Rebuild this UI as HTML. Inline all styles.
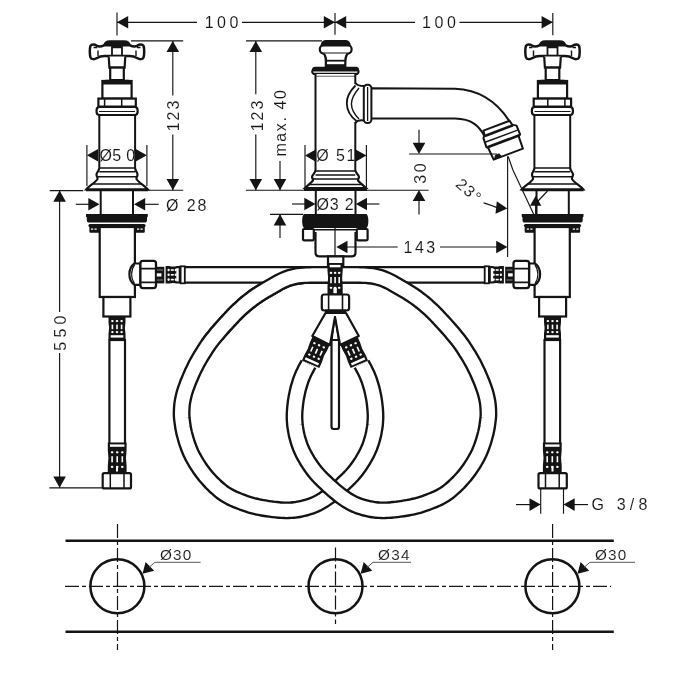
<!DOCTYPE html>
<html><head><meta charset="utf-8"><style>
html,body{margin:0;padding:0;background:#fff;width:700px;height:700px;overflow:hidden}
svg{display:block}
text{font-family:"Liberation Sans",sans-serif;fill:#141414;stroke:#fff;stroke-width:0.1px}
svg{will-change:transform}
</style></head><body>
<svg width="700" height="700" viewBox="0 0 700 700">
<defs><clipPath id="cl"><rect x="200" y="255" width="128" height="85"/></clipPath></defs>
<path d="M487.0 274.8 L484.0 274.8 L481.0 274.8 L478.0 274.8 L475.0 274.8 L472.0 274.8 L469.0 274.8 L466.0 274.8 L463.0 274.8 L460.0 274.8 L457.0 274.8 L454.0 274.8 L451.0 274.8 L448.0 274.8 L444.9 274.8 L441.9 274.8 L438.9 274.8 L435.9 274.8 L432.9 274.8 L429.9 274.8 L426.9 274.8 L423.9 274.8 L420.9 274.8 L417.9 274.8 L414.9 274.8 L411.9 274.8 L408.9 274.8 L405.9 274.8 L402.9 274.8 L399.9 274.8 L396.9 274.8 L393.9 274.8 L390.9 274.8 L387.9 274.8 L384.9 274.8 L381.9 274.8 L378.9 274.8 L375.9 274.8 L372.9 274.8 L369.9 274.8 L366.9 274.8 L363.9 274.8 L360.8 274.8 L357.8 274.8 L354.8 274.8 L351.8 274.8 L348.8 274.8 L345.8 274.8 L342.8 274.8 L339.8 274.8 L336.8 274.8 L333.8 274.8 L330.8 274.8 L327.8 274.8 L324.8 274.8 L321.8 274.8 L318.8 274.9 L315.8 274.9 L312.8 274.9 L309.8 275.0 L306.8 275.1 L303.8 275.2 L300.8 275.5 L297.9 275.8 L294.9 276.4 L292.0 277.1 L289.1 277.9 L286.3 278.9 L283.6 280.1 L280.9 281.3 L278.2 282.7 L275.6 284.2 L273.0 285.7 L270.4 287.2 L267.8 288.7 L265.2 290.2 L262.7 291.8 L260.1 293.4 L257.6 295.0 L255.1 296.7 L252.7 298.4 L250.3 300.3 L247.9 302.1 L245.6 304.0 L243.3 306.0 L241.1 308.0 L238.9 310.0 L236.7 312.1 L234.6 314.2 L232.5 316.4 L230.5 318.6 L228.4 320.8 L226.4 323.0 L224.4 325.2 L222.4 327.4 L220.4 329.7 L218.4 332.0 L216.5 334.3 L214.6 336.6 L212.7 338.9 L210.8 341.3 L209.1 343.7 L207.3 346.2 L205.7 348.6 L204.1 351.2 L202.5 353.7 L200.9 356.3 L199.4 358.9 L197.9 361.5 L196.4 364.1 L195.1 366.8 L193.8 369.5 L192.5 372.2 L191.3 374.9 L190.1 377.7 L188.9 380.5 L187.8 383.2 L186.8 386.0 L185.7 388.9 L184.8 391.7 L184.0 394.6 L183.3 397.5 L182.7 400.4 L182.2 403.4 L181.9 406.4 L181.7 409.4 L181.6 412.3 L181.6 415.3 L181.8 418.3 L182.2 421.3 L182.6 424.3 L183.0 427.2 L183.6 430.2 L184.2 433.1 L185.0 436.0 L185.8 438.9 L186.6 441.8 L187.6 444.6 L188.6 447.4 L189.7 450.2 L190.9 453.0 L192.2 455.7 L193.6 458.3 L195.1 460.9 L196.6 463.5 L198.3 466.0 L199.9 468.5 L201.7 471.0 L203.5 473.4 L205.3 475.7 L207.3 478.0 L209.3 480.2 L211.3 482.4 L213.5 484.5 L215.6 486.6 L217.9 488.6 L220.1 490.5 L222.5 492.4 L225.0 494.1 L227.5 495.6 L230.1 497.1 L232.8 498.4 L235.5 499.6 L238.3 500.7 L241.1 501.8 L243.9 502.9 L246.8 503.9 L249.6 504.8 L252.5 505.6 L255.4 506.3 L258.3 507.0 L261.3 507.6 L264.2 508.1 L267.2 508.6 L270.2 509.0 L273.1 509.4 L276.1 509.7 L279.1 510.0 L282.1 510.2 L285.1 510.3 L288.1 510.3 L291.1 510.2 L294.1 510.0 L297.0 509.6 L300.0 509.1 L302.9 508.4 L305.8 507.7 L308.7 506.8 L311.5 505.9 L314.3 504.8 L317.0 503.6 L319.7 502.2 L322.2 500.7 L324.7 499.1 L327.2 497.3 L329.6 495.6 L332.0 493.7 L334.3 491.8 L336.6 489.9 L338.8 487.9 L341.1 485.9 L343.3 483.8 L345.4 481.8 L347.6 479.7 L349.7 477.6 L351.8 475.4 L353.8 473.1 L355.7 470.8 L357.5 468.4 L359.2 466.0 L360.9 463.5 L362.5 461.0 L364.0 458.4 L365.5 455.8 L366.9 453.1 L368.2 450.4 L369.4 447.7 L370.4 444.9 L371.4 442.0 L372.2 439.2 L373.0 436.3 L373.7 433.4 L374.2 430.4 L374.7 427.5 L375.1 424.5 L375.3 421.5 L375.5 418.5 L375.5 415.5 L375.4 412.5 L375.2 409.5 L374.9 406.5 L374.6 403.6 L374.2 400.6 L373.7 397.6 L373.1 394.7 L372.5 391.8 L371.8 388.8 L371.0 386.0 L370.1 383.1 L369.2 380.2 L368.1 377.4 L367.0 374.7 L365.7 372.0 L364.4 369.3 L362.9 366.6 L361.5 364.0" fill="none" stroke="#141414" stroke-width="17.85" stroke-linejoin="round"/><path d="M487.0 274.8 L484.0 274.8 L481.0 274.8 L478.0 274.8 L475.0 274.8 L472.0 274.8 L469.0 274.8 L466.0 274.8 L463.0 274.8 L460.0 274.8 L457.0 274.8 L454.0 274.8 L451.0 274.8 L448.0 274.8 L444.9 274.8 L441.9 274.8 L438.9 274.8 L435.9 274.8 L432.9 274.8 L429.9 274.8 L426.9 274.8 L423.9 274.8 L420.9 274.8 L417.9 274.8 L414.9 274.8 L411.9 274.8 L408.9 274.8 L405.9 274.8 L402.9 274.8 L399.9 274.8 L396.9 274.8 L393.9 274.8 L390.9 274.8 L387.9 274.8 L384.9 274.8 L381.9 274.8 L378.9 274.8 L375.9 274.8 L372.9 274.8 L369.9 274.8 L366.9 274.8 L363.9 274.8 L360.8 274.8 L357.8 274.8 L354.8 274.8 L351.8 274.8 L348.8 274.8 L345.8 274.8 L342.8 274.8 L339.8 274.8 L336.8 274.8 L333.8 274.8 L330.8 274.8 L327.8 274.8 L324.8 274.8 L321.8 274.8 L318.8 274.9 L315.8 274.9 L312.8 274.9 L309.8 275.0 L306.8 275.1 L303.8 275.2 L300.8 275.5 L297.9 275.8 L294.9 276.4 L292.0 277.1 L289.1 277.9 L286.3 278.9 L283.6 280.1 L280.9 281.3 L278.2 282.7 L275.6 284.2 L273.0 285.7 L270.4 287.2 L267.8 288.7 L265.2 290.2 L262.7 291.8 L260.1 293.4 L257.6 295.0 L255.1 296.7 L252.7 298.4 L250.3 300.3 L247.9 302.1 L245.6 304.0 L243.3 306.0 L241.1 308.0 L238.9 310.0 L236.7 312.1 L234.6 314.2 L232.5 316.4 L230.5 318.6 L228.4 320.8 L226.4 323.0 L224.4 325.2 L222.4 327.4 L220.4 329.7 L218.4 332.0 L216.5 334.3 L214.6 336.6 L212.7 338.9 L210.8 341.3 L209.1 343.7 L207.3 346.2 L205.7 348.6 L204.1 351.2 L202.5 353.7 L200.9 356.3 L199.4 358.9 L197.9 361.5 L196.4 364.1 L195.1 366.8 L193.8 369.5 L192.5 372.2 L191.3 374.9 L190.1 377.7 L188.9 380.5 L187.8 383.2 L186.8 386.0 L185.7 388.9 L184.8 391.7 L184.0 394.6 L183.3 397.5 L182.7 400.4 L182.2 403.4 L181.9 406.4 L181.7 409.4 L181.6 412.3 L181.6 415.3 L181.8 418.3 L182.2 421.3 L182.6 424.3 L183.0 427.2 L183.6 430.2 L184.2 433.1 L185.0 436.0 L185.8 438.9 L186.6 441.8 L187.6 444.6 L188.6 447.4 L189.7 450.2 L190.9 453.0 L192.2 455.7 L193.6 458.3 L195.1 460.9 L196.6 463.5 L198.3 466.0 L199.9 468.5 L201.7 471.0 L203.5 473.4 L205.3 475.7 L207.3 478.0 L209.3 480.2 L211.3 482.4 L213.5 484.5 L215.6 486.6 L217.9 488.6 L220.1 490.5 L222.5 492.4 L225.0 494.1 L227.5 495.6 L230.1 497.1 L232.8 498.4 L235.5 499.6 L238.3 500.7 L241.1 501.8 L243.9 502.9 L246.8 503.9 L249.6 504.8 L252.5 505.6 L255.4 506.3 L258.3 507.0 L261.3 507.6 L264.2 508.1 L267.2 508.6 L270.2 509.0 L273.1 509.4 L276.1 509.7 L279.1 510.0 L282.1 510.2 L285.1 510.3 L288.1 510.3 L291.1 510.2 L294.1 510.0 L297.0 509.6 L300.0 509.1 L302.9 508.4 L305.8 507.7 L308.7 506.8 L311.5 505.9 L314.3 504.8 L317.0 503.6 L319.7 502.2 L322.2 500.7 L324.7 499.1 L327.2 497.3 L329.6 495.6 L332.0 493.7 L334.3 491.8 L336.6 489.9 L338.8 487.9 L341.1 485.9 L343.3 483.8 L345.4 481.8 L347.6 479.7 L349.7 477.6 L351.8 475.4 L353.8 473.1 L355.7 470.8 L357.5 468.4 L359.2 466.0 L360.9 463.5 L362.5 461.0 L364.0 458.4 L365.5 455.8 L366.9 453.1 L368.2 450.4 L369.4 447.7 L370.4 444.9 L371.4 442.0 L372.2 439.2 L373.0 436.3 L373.7 433.4 L374.2 430.4 L374.7 427.5 L375.1 424.5 L375.3 421.5 L375.5 418.5 L375.5 415.5 L375.4 412.5 L375.2 409.5 L374.9 406.5 L374.6 403.6 L374.2 400.6 L373.7 397.6 L373.1 394.7 L372.5 391.8 L371.8 388.8 L371.0 386.0 L370.1 383.1 L369.2 380.2 L368.1 377.4 L367.0 374.7 L365.7 372.0 L364.4 369.3 L362.9 366.6 L361.5 364.0" fill="none" stroke="#fff" stroke-width="13.15" stroke-linejoin="round"/>
<path d="M183.0 274.8 L186.0 274.8 L189.0 274.8 L192.0 274.8 L195.0 274.8 L198.0 274.8 L201.0 274.8 L204.0 274.8 L207.0 274.8 L210.0 274.8 L213.0 274.8 L216.0 274.8 L219.0 274.8 L222.0 274.8 L225.1 274.8 L228.1 274.8 L231.1 274.8 L234.1 274.8 L237.1 274.8 L240.1 274.8 L243.1 274.8 L246.1 274.8 L249.1 274.8 L252.1 274.8 L255.1 274.8 L258.1 274.8 L261.1 274.8 L264.1 274.8 L267.1 274.8 L270.1 274.8 L273.1 274.8 L276.1 274.8 L279.1 274.8 L282.1 274.8 L285.1 274.8 L288.1 274.8 L291.1 274.8 L294.1 274.8 L297.1 274.8 L300.1 274.8 L303.1 274.8 L306.1 274.8 L309.2 274.8 L312.2 274.8 L315.2 274.8 L318.2 274.8 L321.2 274.8 L324.2 274.8 L327.2 274.8 L330.2 274.8 L333.2 274.8 L336.2 274.8 L339.2 274.8 L342.2 274.8 L345.2 274.8 L348.2 274.8 L351.2 274.9 L354.2 274.9 L357.2 274.9 L360.2 275.0 L363.2 275.1 L366.2 275.2 L369.2 275.5 L372.1 275.8 L375.1 276.4 L378.0 277.1 L380.9 277.9 L383.7 278.9 L386.4 280.1 L389.1 281.3 L391.8 282.7 L394.4 284.2 L397.0 285.7 L399.6 287.2 L402.2 288.7 L404.8 290.2 L407.3 291.8 L409.9 293.4 L412.4 295.0 L414.9 296.7 L417.3 298.4 L419.7 300.3 L422.1 302.1 L424.4 304.0 L426.7 306.0 L428.9 308.0 L431.1 310.0 L433.3 312.1 L435.4 314.2 L437.5 316.4 L439.5 318.6 L441.6 320.8 L443.6 323.0 L445.6 325.2 L447.6 327.4 L449.6 329.7 L451.6 332.0 L453.5 334.3 L455.4 336.6 L457.3 338.9 L459.2 341.3 L460.9 343.7 L462.7 346.2 L464.3 348.6 L465.9 351.2 L467.5 353.7 L469.1 356.3 L470.6 358.9 L472.1 361.5 L473.6 364.1 L474.9 366.8 L476.2 369.5 L477.5 372.2 L478.7 374.9 L479.9 377.7 L481.1 380.5 L482.2 383.2 L483.2 386.0 L484.3 388.9 L485.2 391.7 L486.0 394.6 L486.7 397.5 L487.3 400.4 L487.8 403.4 L488.1 406.4 L488.3 409.4 L488.4 412.3 L488.4 415.3 L488.2 418.3 L487.8 421.3 L487.4 424.3 L487.0 427.2 L486.4 430.2 L485.8 433.1 L485.0 436.0 L484.2 438.9 L483.4 441.8 L482.4 444.6 L481.4 447.4 L480.3 450.2 L479.1 453.0 L477.8 455.7 L476.4 458.3 L474.9 460.9 L473.4 463.5 L471.7 466.0 L470.1 468.5 L468.3 471.0 L466.5 473.4 L464.7 475.7 L462.7 478.0 L460.7 480.2 L458.7 482.4 L456.5 484.5 L454.4 486.6 L452.1 488.6 L449.9 490.5 L447.5 492.4 L445.0 494.1 L442.5 495.6 L439.9 497.1 L437.2 498.4 L434.5 499.6 L431.7 500.7 L428.9 501.8 L426.1 502.9 L423.2 503.9 L420.4 504.8 L417.5 505.6 L414.6 506.3 L411.7 507.0 L408.7 507.6 L405.8 508.1 L402.8 508.6 L399.8 509.0 L396.9 509.4 L393.9 509.7 L390.9 510.0 L387.9 510.2 L384.9 510.3 L381.9 510.3 L378.9 510.2 L375.9 510.0 L373.0 509.6 L370.0 509.1 L367.1 508.4 L364.2 507.7 L361.3 506.8 L358.5 505.9 L355.7 504.8 L353.0 503.6 L350.3 502.2 L347.8 500.7 L345.3 499.1 L342.8 497.3 L340.4 495.6 L338.0 493.7 L335.7 491.8 L333.4 489.9 L331.2 487.9 L328.9 485.9 L326.7 483.8 L324.6 481.8 L322.4 479.7 L320.3 477.6 L318.2 475.4 L316.2 473.1 L314.3 470.8 L312.5 468.4 L310.8 466.0 L309.1 463.5 L307.5 461.0 L306.0 458.4 L304.5 455.8 L303.1 453.1 L301.8 450.4 L300.6 447.7 L299.6 444.9 L298.6 442.0 L297.8 439.2 L297.0 436.3 L296.3 433.4 L295.8 430.4 L295.3 427.5 L294.9 424.5 L294.7 421.5 L294.5 418.5 L294.5 415.5 L294.6 412.5 L294.8 409.5 L295.1 406.5 L295.4 403.6 L295.8 400.6 L296.3 397.6 L296.9 394.7 L297.5 391.8 L298.2 388.8 L299.0 386.0 L299.9 383.1 L300.8 380.2 L301.9 377.4 L303.0 374.7 L304.3 372.0 L305.6 369.3 L307.1 366.6 L308.5 364.0" fill="none" stroke="#141414" stroke-width="17.85" stroke-linejoin="round"/><path d="M183.0 274.8 L186.0 274.8 L189.0 274.8 L192.0 274.8 L195.0 274.8 L198.0 274.8 L201.0 274.8 L204.0 274.8 L207.0 274.8 L210.0 274.8 L213.0 274.8 L216.0 274.8 L219.0 274.8 L222.0 274.8 L225.1 274.8 L228.1 274.8 L231.1 274.8 L234.1 274.8 L237.1 274.8 L240.1 274.8 L243.1 274.8 L246.1 274.8 L249.1 274.8 L252.1 274.8 L255.1 274.8 L258.1 274.8 L261.1 274.8 L264.1 274.8 L267.1 274.8 L270.1 274.8 L273.1 274.8 L276.1 274.8 L279.1 274.8 L282.1 274.8 L285.1 274.8 L288.1 274.8 L291.1 274.8 L294.1 274.8 L297.1 274.8 L300.1 274.8 L303.1 274.8 L306.1 274.8 L309.2 274.8 L312.2 274.8 L315.2 274.8 L318.2 274.8 L321.2 274.8 L324.2 274.8 L327.2 274.8 L330.2 274.8 L333.2 274.8 L336.2 274.8 L339.2 274.8 L342.2 274.8 L345.2 274.8 L348.2 274.8 L351.2 274.9 L354.2 274.9 L357.2 274.9 L360.2 275.0 L363.2 275.1 L366.2 275.2 L369.2 275.5 L372.1 275.8 L375.1 276.4 L378.0 277.1 L380.9 277.9 L383.7 278.9 L386.4 280.1 L389.1 281.3 L391.8 282.7 L394.4 284.2 L397.0 285.7 L399.6 287.2 L402.2 288.7 L404.8 290.2 L407.3 291.8 L409.9 293.4 L412.4 295.0 L414.9 296.7 L417.3 298.4 L419.7 300.3 L422.1 302.1 L424.4 304.0 L426.7 306.0 L428.9 308.0 L431.1 310.0 L433.3 312.1 L435.4 314.2 L437.5 316.4 L439.5 318.6 L441.6 320.8 L443.6 323.0 L445.6 325.2 L447.6 327.4 L449.6 329.7 L451.6 332.0 L453.5 334.3 L455.4 336.6 L457.3 338.9 L459.2 341.3 L460.9 343.7 L462.7 346.2 L464.3 348.6 L465.9 351.2 L467.5 353.7 L469.1 356.3 L470.6 358.9 L472.1 361.5 L473.6 364.1 L474.9 366.8 L476.2 369.5 L477.5 372.2 L478.7 374.9 L479.9 377.7 L481.1 380.5 L482.2 383.2 L483.2 386.0 L484.3 388.9 L485.2 391.7 L486.0 394.6 L486.7 397.5 L487.3 400.4 L487.8 403.4 L488.1 406.4 L488.3 409.4 L488.4 412.3 L488.4 415.3 L488.2 418.3 L487.8 421.3 L487.4 424.3 L487.0 427.2 L486.4 430.2 L485.8 433.1 L485.0 436.0 L484.2 438.9 L483.4 441.8 L482.4 444.6 L481.4 447.4 L480.3 450.2 L479.1 453.0 L477.8 455.7 L476.4 458.3 L474.9 460.9 L473.4 463.5 L471.7 466.0 L470.1 468.5 L468.3 471.0 L466.5 473.4 L464.7 475.7 L462.7 478.0 L460.7 480.2 L458.7 482.4 L456.5 484.5 L454.4 486.6 L452.1 488.6 L449.9 490.5 L447.5 492.4 L445.0 494.1 L442.5 495.6 L439.9 497.1 L437.2 498.4 L434.5 499.6 L431.7 500.7 L428.9 501.8 L426.1 502.9 L423.2 503.9 L420.4 504.8 L417.5 505.6 L414.6 506.3 L411.7 507.0 L408.7 507.6 L405.8 508.1 L402.8 508.6 L399.8 509.0 L396.9 509.4 L393.9 509.7 L390.9 510.0 L387.9 510.2 L384.9 510.3 L381.9 510.3 L378.9 510.2 L375.9 510.0 L373.0 509.6 L370.0 509.1 L367.1 508.4 L364.2 507.7 L361.3 506.8 L358.5 505.9 L355.7 504.8 L353.0 503.6 L350.3 502.2 L347.8 500.7 L345.3 499.1 L342.8 497.3 L340.4 495.6 L338.0 493.7 L335.7 491.8 L333.4 489.9 L331.2 487.9 L328.9 485.9 L326.7 483.8 L324.6 481.8 L322.4 479.7 L320.3 477.6 L318.2 475.4 L316.2 473.1 L314.3 470.8 L312.5 468.4 L310.8 466.0 L309.1 463.5 L307.5 461.0 L306.0 458.4 L304.5 455.8 L303.1 453.1 L301.8 450.4 L300.6 447.7 L299.6 444.9 L298.6 442.0 L297.8 439.2 L297.0 436.3 L296.3 433.4 L295.8 430.4 L295.3 427.5 L294.9 424.5 L294.7 421.5 L294.5 418.5 L294.5 415.5 L294.6 412.5 L294.8 409.5 L295.1 406.5 L295.4 403.6 L295.8 400.6 L296.3 397.6 L296.9 394.7 L297.5 391.8 L298.2 388.8 L299.0 386.0 L299.9 383.1 L300.8 380.2 L301.9 377.4 L303.0 374.7 L304.3 372.0 L305.6 369.3 L307.1 366.6 L308.5 364.0" fill="none" stroke="#fff" stroke-width="13.15" stroke-linejoin="round"/>
<g clip-path="url(#cl)"><path d="M487.0 274.8 L484.0 274.8 L481.0 274.8 L478.0 274.8 L475.0 274.8 L472.0 274.8 L469.0 274.8 L466.0 274.8 L463.0 274.8 L460.0 274.8 L457.0 274.8 L454.0 274.8 L451.0 274.8 L448.0 274.8 L444.9 274.8 L441.9 274.8 L438.9 274.8 L435.9 274.8 L432.9 274.8 L429.9 274.8 L426.9 274.8 L423.9 274.8 L420.9 274.8 L417.9 274.8 L414.9 274.8 L411.9 274.8 L408.9 274.8 L405.9 274.8 L402.9 274.8 L399.9 274.8 L396.9 274.8 L393.9 274.8 L390.9 274.8 L387.9 274.8 L384.9 274.8 L381.9 274.8 L378.9 274.8 L375.9 274.8 L372.9 274.8 L369.9 274.8 L366.9 274.8 L363.9 274.8 L360.8 274.8 L357.8 274.8 L354.8 274.8 L351.8 274.8 L348.8 274.8 L345.8 274.8 L342.8 274.8 L339.8 274.8 L336.8 274.8 L333.8 274.8 L330.8 274.8 L327.8 274.8 L324.8 274.8 L321.8 274.8 L318.8 274.9 L315.8 274.9 L312.8 274.9 L309.8 275.0 L306.8 275.1 L303.8 275.2 L300.8 275.5 L297.9 275.8 L294.9 276.4 L292.0 277.1 L289.1 277.9 L286.3 278.9 L283.6 280.1 L280.9 281.3 L278.2 282.7 L275.6 284.2 L273.0 285.7 L270.4 287.2 L267.8 288.7 L265.2 290.2 L262.7 291.8 L260.1 293.4 L257.6 295.0 L255.1 296.7 L252.7 298.4 L250.3 300.3 L247.9 302.1 L245.6 304.0 L243.3 306.0 L241.1 308.0 L238.9 310.0 L236.7 312.1 L234.6 314.2 L232.5 316.4 L230.5 318.6 L228.4 320.8 L226.4 323.0 L224.4 325.2 L222.4 327.4 L220.4 329.7 L218.4 332.0 L216.5 334.3 L214.6 336.6 L212.7 338.9 L210.8 341.3 L209.1 343.7 L207.3 346.2 L205.7 348.6 L204.1 351.2 L202.5 353.7 L200.9 356.3 L199.4 358.9 L197.9 361.5 L196.4 364.1 L195.1 366.8 L193.8 369.5 L192.5 372.2 L191.3 374.9 L190.1 377.7 L188.9 380.5 L187.8 383.2 L186.8 386.0 L185.7 388.9 L184.8 391.7 L184.0 394.6 L183.3 397.5 L182.7 400.4 L182.2 403.4 L181.9 406.4 L181.7 409.4 L181.6 412.3 L181.6 415.3 L181.8 418.3 L182.2 421.3 L182.6 424.3 L183.0 427.2 L183.6 430.2 L184.2 433.1 L185.0 436.0 L185.8 438.9 L186.6 441.8 L187.6 444.6 L188.6 447.4 L189.7 450.2 L190.9 453.0 L192.2 455.7 L193.6 458.3 L195.1 460.9 L196.6 463.5 L198.3 466.0 L199.9 468.5 L201.7 471.0 L203.5 473.4 L205.3 475.7 L207.3 478.0 L209.3 480.2 L211.3 482.4 L213.5 484.5 L215.6 486.6 L217.9 488.6 L220.1 490.5 L222.5 492.4 L225.0 494.1 L227.5 495.6 L230.1 497.1 L232.8 498.4 L235.5 499.6 L238.3 500.7 L241.1 501.8 L243.9 502.9 L246.8 503.9 L249.6 504.8 L252.5 505.6 L255.4 506.3 L258.3 507.0 L261.3 507.6 L264.2 508.1 L267.2 508.6 L270.2 509.0 L273.1 509.4 L276.1 509.7 L279.1 510.0 L282.1 510.2 L285.1 510.3 L288.1 510.3 L291.1 510.2 L294.1 510.0 L297.0 509.6 L300.0 509.1 L302.9 508.4 L305.8 507.7 L308.7 506.8 L311.5 505.9 L314.3 504.8 L317.0 503.6 L319.7 502.2 L322.2 500.7 L324.7 499.1 L327.2 497.3 L329.6 495.6 L332.0 493.7 L334.3 491.8 L336.6 489.9 L338.8 487.9 L341.1 485.9 L343.3 483.8 L345.4 481.8 L347.6 479.7 L349.7 477.6 L351.8 475.4 L353.8 473.1 L355.7 470.8 L357.5 468.4 L359.2 466.0 L360.9 463.5 L362.5 461.0 L364.0 458.4 L365.5 455.8 L366.9 453.1 L368.2 450.4 L369.4 447.7 L370.4 444.9 L371.4 442.0 L372.2 439.2 L373.0 436.3 L373.7 433.4 L374.2 430.4 L374.7 427.5 L375.1 424.5 L375.3 421.5 L375.5 418.5 L375.5 415.5 L375.4 412.5 L375.2 409.5 L374.9 406.5 L374.6 403.6 L374.2 400.6 L373.7 397.6 L373.1 394.7 L372.5 391.8 L371.8 388.8 L371.0 386.0 L370.1 383.1 L369.2 380.2 L368.1 377.4 L367.0 374.7 L365.7 372.0 L364.4 369.3 L362.9 366.6 L361.5 364.0" fill="none" stroke="#141414" stroke-width="17.85" stroke-linejoin="round"/><path d="M487.0 274.8 L484.0 274.8 L481.0 274.8 L478.0 274.8 L475.0 274.8 L472.0 274.8 L469.0 274.8 L466.0 274.8 L463.0 274.8 L460.0 274.8 L457.0 274.8 L454.0 274.8 L451.0 274.8 L448.0 274.8 L444.9 274.8 L441.9 274.8 L438.9 274.8 L435.9 274.8 L432.9 274.8 L429.9 274.8 L426.9 274.8 L423.9 274.8 L420.9 274.8 L417.9 274.8 L414.9 274.8 L411.9 274.8 L408.9 274.8 L405.9 274.8 L402.9 274.8 L399.9 274.8 L396.9 274.8 L393.9 274.8 L390.9 274.8 L387.9 274.8 L384.9 274.8 L381.9 274.8 L378.9 274.8 L375.9 274.8 L372.9 274.8 L369.9 274.8 L366.9 274.8 L363.9 274.8 L360.8 274.8 L357.8 274.8 L354.8 274.8 L351.8 274.8 L348.8 274.8 L345.8 274.8 L342.8 274.8 L339.8 274.8 L336.8 274.8 L333.8 274.8 L330.8 274.8 L327.8 274.8 L324.8 274.8 L321.8 274.8 L318.8 274.9 L315.8 274.9 L312.8 274.9 L309.8 275.0 L306.8 275.1 L303.8 275.2 L300.8 275.5 L297.9 275.8 L294.9 276.4 L292.0 277.1 L289.1 277.9 L286.3 278.9 L283.6 280.1 L280.9 281.3 L278.2 282.7 L275.6 284.2 L273.0 285.7 L270.4 287.2 L267.8 288.7 L265.2 290.2 L262.7 291.8 L260.1 293.4 L257.6 295.0 L255.1 296.7 L252.7 298.4 L250.3 300.3 L247.9 302.1 L245.6 304.0 L243.3 306.0 L241.1 308.0 L238.9 310.0 L236.7 312.1 L234.6 314.2 L232.5 316.4 L230.5 318.6 L228.4 320.8 L226.4 323.0 L224.4 325.2 L222.4 327.4 L220.4 329.7 L218.4 332.0 L216.5 334.3 L214.6 336.6 L212.7 338.9 L210.8 341.3 L209.1 343.7 L207.3 346.2 L205.7 348.6 L204.1 351.2 L202.5 353.7 L200.9 356.3 L199.4 358.9 L197.9 361.5 L196.4 364.1 L195.1 366.8 L193.8 369.5 L192.5 372.2 L191.3 374.9 L190.1 377.7 L188.9 380.5 L187.8 383.2 L186.8 386.0 L185.7 388.9 L184.8 391.7 L184.0 394.6 L183.3 397.5 L182.7 400.4 L182.2 403.4 L181.9 406.4 L181.7 409.4 L181.6 412.3 L181.6 415.3 L181.8 418.3 L182.2 421.3 L182.6 424.3 L183.0 427.2 L183.6 430.2 L184.2 433.1 L185.0 436.0 L185.8 438.9 L186.6 441.8 L187.6 444.6 L188.6 447.4 L189.7 450.2 L190.9 453.0 L192.2 455.7 L193.6 458.3 L195.1 460.9 L196.6 463.5 L198.3 466.0 L199.9 468.5 L201.7 471.0 L203.5 473.4 L205.3 475.7 L207.3 478.0 L209.3 480.2 L211.3 482.4 L213.5 484.5 L215.6 486.6 L217.9 488.6 L220.1 490.5 L222.5 492.4 L225.0 494.1 L227.5 495.6 L230.1 497.1 L232.8 498.4 L235.5 499.6 L238.3 500.7 L241.1 501.8 L243.9 502.9 L246.8 503.9 L249.6 504.8 L252.5 505.6 L255.4 506.3 L258.3 507.0 L261.3 507.6 L264.2 508.1 L267.2 508.6 L270.2 509.0 L273.1 509.4 L276.1 509.7 L279.1 510.0 L282.1 510.2 L285.1 510.3 L288.1 510.3 L291.1 510.2 L294.1 510.0 L297.0 509.6 L300.0 509.1 L302.9 508.4 L305.8 507.7 L308.7 506.8 L311.5 505.9 L314.3 504.8 L317.0 503.6 L319.7 502.2 L322.2 500.7 L324.7 499.1 L327.2 497.3 L329.6 495.6 L332.0 493.7 L334.3 491.8 L336.6 489.9 L338.8 487.9 L341.1 485.9 L343.3 483.8 L345.4 481.8 L347.6 479.7 L349.7 477.6 L351.8 475.4 L353.8 473.1 L355.7 470.8 L357.5 468.4 L359.2 466.0 L360.9 463.5 L362.5 461.0 L364.0 458.4 L365.5 455.8 L366.9 453.1 L368.2 450.4 L369.4 447.7 L370.4 444.9 L371.4 442.0 L372.2 439.2 L373.0 436.3 L373.7 433.4 L374.2 430.4 L374.7 427.5 L375.1 424.5 L375.3 421.5 L375.5 418.5 L375.5 415.5 L375.4 412.5 L375.2 409.5 L374.9 406.5 L374.6 403.6 L374.2 400.6 L373.7 397.6 L373.1 394.7 L372.5 391.8 L371.8 388.8 L371.0 386.0 L370.1 383.1 L369.2 380.2 L368.1 377.4 L367.0 374.7 L365.7 372.0 L364.4 369.3 L362.9 366.6 L361.5 364.0" fill="none" stroke="#fff" stroke-width="13.15" stroke-linejoin="round"/></g>
<g transform="translate(117,0)"><path d="M0 45.3 H13 C15.5 46.5 18.0 47.2 20.5 45.6 C22.5 44.1 25.5 43.7 26.6 46.0 C27.4 48.5 27.4 55.0 26.5 57.5 C25.5 59.6 22.5 59.5 20.5 58.2 C18.0 56.7 15.5 55.9 12.0 56.0 H-12 C-15.5 55.9 -18.0 56.7 -20.5 58.2 C-22.5 59.5 -25.5 59.6 -26.5 57.5 C-27.4 55.0 -27.4 48.5 -26.6 46.0 C-25.5 43.7 -22.5 44.1 -20.5 45.6 C-18.0 47.2 -15.5 46.5 -13.0 45.3 Z" stroke="#141414" stroke-width="2.5" fill="#fff" stroke-linejoin="round"/>
<path d="M-13.8 46 Q-13.5 40.2 -7 40.2 H7 Q13.5 40.2 13.8 46 Z" fill="#141414"/>
<rect x="-5" y="46" width="10" height="9.8" fill="none" stroke="#141414" stroke-width="1.8"/>
<path d="M-5 47 H5" stroke="#141414" stroke-width="2.5"/>
<path d="M-19 50.5 V56 M19 50.5 V56 M-23.5 47.5 H-20 M20 47.5 H23.5" stroke="#141414" stroke-width="1.4"/>
<path d="M-8.3 56.5 L-7.6 67.6 H7.6 L8.3 56.5" stroke="#141414" stroke-width="2.2" fill="#fff"/>
<rect x="-6.8" y="67.6" width="13.6" height="12.5" stroke="#141414" stroke-width="2.2" fill="#fff"/>
<rect x="-14.6" y="81" width="29.2" height="17.6" stroke="#141414" stroke-width="2.2" fill="#fff"/>
<path d="M-14.8 84.5 V82.5 Q-14.8 79.8 -11 79.8 H11 Q14.8 79.8 14.8 82.5 V84.5 Z" fill="#141414"/>
<rect x="-18.6" y="98.6" width="37.4" height="8" stroke="#141414" stroke-width="2.2" fill="#fff"/>
<path d="M-12.4 99 V106 M4.7 99 V106" stroke="#141414" stroke-width="1.5"/>
<rect x="-20.4" y="107" width="41" height="8" rx="3" stroke="#141414" stroke-width="2.2" fill="#fff"/>
<path d="M-18 111.5 H18" stroke="#141414" stroke-width="1.2"/>
<path d="M-17.7 115 V168 M18.1 115 V168" stroke="#141414" stroke-width="2" fill="none"/>
<path d="M-17.7 168 C-17.7 171 -20.5 172 -20.5 174.5 C-20.5 177 -19 177.5 -19.5 179 C-22 183 -28 186 -30.8 189.5 H30.8 C28 186 22 183 19.5 179 C19 177.5 20.5 177 20.5 174.5 C20.5 172 18.1 171 18.1 168" stroke="#141414" stroke-width="2.2" fill="#fff"/>
<path d="M-17.7 168 H18.1 M-17.7 171.8 H18.1" stroke="#141414" stroke-width="1.6"/>
<path d="M-19.5 176.8 H19.5 M-25 184 H25" stroke="#141414" stroke-width="1.6"/>
<path d="M-31 189.8 H31" stroke="#141414" stroke-width="2.8"/>
<path d="M-16.3 191 V214 M16 191 V214" stroke="#141414" stroke-width="2"/>
<path d="M-31 214 H30.8 V216.5 L30 217.5 V220 Q30 222.6 27.5 222.6 H-27.7 Q-30.2 222.6 -30.2 220 V217.5 L-31 216.5 Z" fill="#141414"/>
<rect x="-28.6" y="223.9" width="57.2" height="3.3" rx="1.6" fill="#141414"/>
<rect x="-27.6" y="226.5" width="11" height="6.2" rx="1" fill="#141414"/>
<rect x="16.8" y="226.5" width="11" height="6.2" rx="1" fill="#141414"/>
<path d="M-26 229.2 h2.2 M-22.5 229.2 h2.2 M20 229.2 h2.2 M23.5 229.2 h2.2" stroke="#fff" stroke-width="1.2"/>
<rect x="-17.3" y="227" width="35.2" height="70" stroke="#141414" stroke-width="2.2" fill="#fff"/>
<path d="M23.5 263.5 H17.5 C14 266 12.4 270 12.4 274.3 C12.4 278.5 14 282.5 17.5 284.8 H23.5 Z" stroke="#141414" stroke-width="2.2" fill="#fff"/>
<path d="M17.6 264.8 C15.6 267.5 14.6 270.5 14.6 274.3 C14.6 278 15.6 281 17.6 283.6" fill="none" stroke="#141414" stroke-width="1.1"/>
<rect x="23.4" y="260.8" width="15.6" height="27.3" rx="2.5" stroke="#141414" stroke-width="2.3" fill="#fff"/>
<path d="M24 268.6 H38.5 M24 282.4 H38.5" stroke="#141414" stroke-width="1.9"/>
<rect x="38.8" y="266.8" width="8.5" height="16.6" fill="#141414"/>
<rect x="39.8" y="273.3" width="4.6" height="3.2" fill="#fff"/>
<path d="M40 270 H46 M40 280 H46" stroke="#888" stroke-width="1"/>
<g transform="translate(63.6,274.8) rotate(90)"><path d="M-8.8 0 H8.8 V3.8 Q7.6000000000000005 7.5 8.8 11.2 V15 H-8.8 V11.2 Q-7.6000000000000005 7.5 -8.8 3.8 Z" fill="#141414"/><rect x="-6.6" y="1.9" width="13.2" height="2.4" fill="#fff"/><ellipse cx="-4.8" cy="4.8" rx="1.3" ry="1.1" fill="#fff"/><rect x="-5.6" y="6.8" width="1.6" height="3.0" fill="#fff"/><ellipse cx="-4.8" cy="12.0" rx="1.3" ry="1.1" fill="#fff"/><ellipse cx="0.0" cy="4.8" rx="1.3" ry="1.1" fill="#fff"/><rect x="-0.8" y="6.8" width="1.6" height="3.0" fill="#fff"/><ellipse cx="0.0" cy="12.0" rx="1.3" ry="1.1" fill="#fff"/><ellipse cx="4.8" cy="4.8" rx="1.3" ry="1.1" fill="#fff"/><rect x="4.0" y="6.8" width="1.6" height="3.0" fill="#fff"/><ellipse cx="4.8" cy="12.0" rx="1.3" ry="1.1" fill="#fff"/></g>
<rect x="63.6" y="266.3" width="4.2" height="17" fill="#fff" stroke="#141414" stroke-width="1.8"/>
<rect x="-13.6" y="297" width="27" height="19.5" stroke="#141414" stroke-width="2.2" fill="#fff"/>
<g transform="translate(0,339.5) rotate(180)"><path d="M-8.5 0 H8.5 V5.8 Q7.3 11.5 8.5 17.2 V23 H-8.5 V17.2 Q-7.3 11.5 -8.5 5.8 Z" fill="#141414"/><rect x="-6.3" y="1.9" width="12.6" height="2.4" fill="#fff"/><ellipse cx="-4.6" cy="7.4" rx="1.3" ry="1.1" fill="#fff"/><rect x="-5.4" y="10.3" width="1.6" height="4.6" fill="#fff"/><ellipse cx="-4.6" cy="18.4" rx="1.3" ry="1.1" fill="#fff"/><ellipse cx="0.0" cy="7.4" rx="1.3" ry="1.1" fill="#fff"/><rect x="-0.8" y="10.3" width="1.6" height="4.6" fill="#fff"/><ellipse cx="0.0" cy="18.4" rx="1.3" ry="1.1" fill="#fff"/><ellipse cx="4.6" cy="7.4" rx="1.3" ry="1.1" fill="#fff"/><rect x="3.8" y="10.3" width="1.6" height="4.6" fill="#fff"/><ellipse cx="4.6" cy="18.4" rx="1.3" ry="1.1" fill="#fff"/></g>
<rect x="-7.6" y="340" width="15.6" height="104" stroke="#141414" stroke-width="2.2" fill="#fff"/>
<g transform="translate(0.2,442.5)"><path d="M-9.4 0 H9.4 V7.6 Q8.200000000000001 15.2 9.4 22.9 V30.5 H-9.4 V22.9 Q-8.200000000000001 15.2 -9.4 7.6 Z" fill="#141414"/><rect x="-7.2" y="1.9" width="14.4" height="2.4" fill="#fff"/><ellipse cx="-5.1" cy="9.8" rx="1.3" ry="1.1" fill="#fff"/><rect x="-5.9" y="13.7" width="1.6" height="6.1" fill="#fff"/><ellipse cx="-5.1" cy="24.4" rx="1.3" ry="1.1" fill="#fff"/><ellipse cx="0.0" cy="9.8" rx="1.3" ry="1.1" fill="#fff"/><rect x="-0.8" y="13.7" width="1.6" height="6.1" fill="#fff"/><ellipse cx="0.0" cy="24.4" rx="1.3" ry="1.1" fill="#fff"/><ellipse cx="5.1" cy="9.8" rx="1.3" ry="1.1" fill="#fff"/><rect x="4.3" y="13.7" width="1.6" height="6.1" fill="#fff"/><ellipse cx="5.1" cy="24.4" rx="1.3" ry="1.1" fill="#fff"/></g>
<rect x="-1" y="466.5" width="2" height="5" fill="#fff"/>
<rect x="-14.3" y="473.2" width="28.3" height="15.2" rx="1.5" stroke="#141414" stroke-width="2.2" fill="#fff"/>
<path d="M-6.7 473.5 V488 M7 473.5 V488" stroke="#141414" stroke-width="1.5"/></g>
<g transform="translate(552.5,0) scale(-1,1)"><path d="M0 45.3 H13 C15.5 46.5 18.0 47.2 20.5 45.6 C22.5 44.1 25.5 43.7 26.6 46.0 C27.4 48.5 27.4 55.0 26.5 57.5 C25.5 59.6 22.5 59.5 20.5 58.2 C18.0 56.7 15.5 55.9 12.0 56.0 H-12 C-15.5 55.9 -18.0 56.7 -20.5 58.2 C-22.5 59.5 -25.5 59.6 -26.5 57.5 C-27.4 55.0 -27.4 48.5 -26.6 46.0 C-25.5 43.7 -22.5 44.1 -20.5 45.6 C-18.0 47.2 -15.5 46.5 -13.0 45.3 Z" stroke="#141414" stroke-width="2.5" fill="#fff" stroke-linejoin="round"/>
<path d="M-13.8 46 Q-13.5 40.2 -7 40.2 H7 Q13.5 40.2 13.8 46 Z" fill="#141414"/>
<rect x="-5" y="46" width="10" height="9.8" fill="none" stroke="#141414" stroke-width="1.8"/>
<path d="M-5 47 H5" stroke="#141414" stroke-width="2.5"/>
<path d="M-19 50.5 V56 M19 50.5 V56 M-23.5 47.5 H-20 M20 47.5 H23.5" stroke="#141414" stroke-width="1.4"/>
<path d="M-8.3 56.5 L-7.6 67.6 H7.6 L8.3 56.5" stroke="#141414" stroke-width="2.2" fill="#fff"/>
<rect x="-6.8" y="67.6" width="13.6" height="12.5" stroke="#141414" stroke-width="2.2" fill="#fff"/>
<rect x="-14.6" y="81" width="29.2" height="17.6" stroke="#141414" stroke-width="2.2" fill="#fff"/>
<path d="M-14.8 84.5 V82.5 Q-14.8 79.8 -11 79.8 H11 Q14.8 79.8 14.8 82.5 V84.5 Z" fill="#141414"/>
<rect x="-18.6" y="98.6" width="37.4" height="8" stroke="#141414" stroke-width="2.2" fill="#fff"/>
<path d="M-12.4 99 V106 M4.7 99 V106" stroke="#141414" stroke-width="1.5"/>
<rect x="-20.4" y="107" width="41" height="8" rx="3" stroke="#141414" stroke-width="2.2" fill="#fff"/>
<path d="M-18 111.5 H18" stroke="#141414" stroke-width="1.2"/>
<path d="M-17.7 115 V168 M18.1 115 V168" stroke="#141414" stroke-width="2" fill="none"/>
<path d="M-17.7 168 C-17.7 171 -20.5 172 -20.5 174.5 C-20.5 177 -19 177.5 -19.5 179 C-22 183 -28 186 -30.8 189.5 H30.8 C28 186 22 183 19.5 179 C19 177.5 20.5 177 20.5 174.5 C20.5 172 18.1 171 18.1 168" stroke="#141414" stroke-width="2.2" fill="#fff"/>
<path d="M-17.7 168 H18.1 M-17.7 171.8 H18.1" stroke="#141414" stroke-width="1.6"/>
<path d="M-19.5 176.8 H19.5 M-25 184 H25" stroke="#141414" stroke-width="1.6"/>
<path d="M-31 189.8 H31" stroke="#141414" stroke-width="2.8"/>
<path d="M-16.3 191 V214 M16 191 V214" stroke="#141414" stroke-width="2"/>
<path d="M-31 214 H30.8 V216.5 L30 217.5 V220 Q30 222.6 27.5 222.6 H-27.7 Q-30.2 222.6 -30.2 220 V217.5 L-31 216.5 Z" fill="#141414"/>
<rect x="-28.6" y="223.9" width="57.2" height="3.3" rx="1.6" fill="#141414"/>
<rect x="-27.6" y="226.5" width="11" height="6.2" rx="1" fill="#141414"/>
<rect x="16.8" y="226.5" width="11" height="6.2" rx="1" fill="#141414"/>
<path d="M-26 229.2 h2.2 M-22.5 229.2 h2.2 M20 229.2 h2.2 M23.5 229.2 h2.2" stroke="#fff" stroke-width="1.2"/>
<rect x="-17.3" y="227" width="35.2" height="70" stroke="#141414" stroke-width="2.2" fill="#fff"/>
<path d="M23.5 263.5 H17.5 C14 266 12.4 270 12.4 274.3 C12.4 278.5 14 282.5 17.5 284.8 H23.5 Z" stroke="#141414" stroke-width="2.2" fill="#fff"/>
<path d="M17.6 264.8 C15.6 267.5 14.6 270.5 14.6 274.3 C14.6 278 15.6 281 17.6 283.6" fill="none" stroke="#141414" stroke-width="1.1"/>
<rect x="23.4" y="260.8" width="15.6" height="27.3" rx="2.5" stroke="#141414" stroke-width="2.3" fill="#fff"/>
<path d="M24 268.6 H38.5 M24 282.4 H38.5" stroke="#141414" stroke-width="1.9"/>
<rect x="38.8" y="266.8" width="8.5" height="16.6" fill="#141414"/>
<rect x="39.8" y="273.3" width="4.6" height="3.2" fill="#fff"/>
<path d="M40 270 H46 M40 280 H46" stroke="#888" stroke-width="1"/>
<g transform="translate(63.6,274.8) rotate(90)"><path d="M-8.8 0 H8.8 V3.8 Q7.6000000000000005 7.5 8.8 11.2 V15 H-8.8 V11.2 Q-7.6000000000000005 7.5 -8.8 3.8 Z" fill="#141414"/><rect x="-6.6" y="1.9" width="13.2" height="2.4" fill="#fff"/><ellipse cx="-4.8" cy="4.8" rx="1.3" ry="1.1" fill="#fff"/><rect x="-5.6" y="6.8" width="1.6" height="3.0" fill="#fff"/><ellipse cx="-4.8" cy="12.0" rx="1.3" ry="1.1" fill="#fff"/><ellipse cx="0.0" cy="4.8" rx="1.3" ry="1.1" fill="#fff"/><rect x="-0.8" y="6.8" width="1.6" height="3.0" fill="#fff"/><ellipse cx="0.0" cy="12.0" rx="1.3" ry="1.1" fill="#fff"/><ellipse cx="4.8" cy="4.8" rx="1.3" ry="1.1" fill="#fff"/><rect x="4.0" y="6.8" width="1.6" height="3.0" fill="#fff"/><ellipse cx="4.8" cy="12.0" rx="1.3" ry="1.1" fill="#fff"/></g>
<rect x="63.6" y="266.3" width="4.2" height="17" fill="#fff" stroke="#141414" stroke-width="1.8"/>
<rect x="-13.6" y="297" width="27" height="19.5" stroke="#141414" stroke-width="2.2" fill="#fff"/>
<g transform="translate(0,339.5) rotate(180)"><path d="M-8.5 0 H8.5 V5.8 Q7.3 11.5 8.5 17.2 V23 H-8.5 V17.2 Q-7.3 11.5 -8.5 5.8 Z" fill="#141414"/><rect x="-6.3" y="1.9" width="12.6" height="2.4" fill="#fff"/><ellipse cx="-4.6" cy="7.4" rx="1.3" ry="1.1" fill="#fff"/><rect x="-5.4" y="10.3" width="1.6" height="4.6" fill="#fff"/><ellipse cx="-4.6" cy="18.4" rx="1.3" ry="1.1" fill="#fff"/><ellipse cx="0.0" cy="7.4" rx="1.3" ry="1.1" fill="#fff"/><rect x="-0.8" y="10.3" width="1.6" height="4.6" fill="#fff"/><ellipse cx="0.0" cy="18.4" rx="1.3" ry="1.1" fill="#fff"/><ellipse cx="4.6" cy="7.4" rx="1.3" ry="1.1" fill="#fff"/><rect x="3.8" y="10.3" width="1.6" height="4.6" fill="#fff"/><ellipse cx="4.6" cy="18.4" rx="1.3" ry="1.1" fill="#fff"/></g>
<rect x="-7.6" y="340" width="15.6" height="104" stroke="#141414" stroke-width="2.2" fill="#fff"/>
<g transform="translate(0.2,442.5)"><path d="M-9.4 0 H9.4 V7.6 Q8.200000000000001 15.2 9.4 22.9 V30.5 H-9.4 V22.9 Q-8.200000000000001 15.2 -9.4 7.6 Z" fill="#141414"/><rect x="-7.2" y="1.9" width="14.4" height="2.4" fill="#fff"/><ellipse cx="-5.1" cy="9.8" rx="1.3" ry="1.1" fill="#fff"/><rect x="-5.9" y="13.7" width="1.6" height="6.1" fill="#fff"/><ellipse cx="-5.1" cy="24.4" rx="1.3" ry="1.1" fill="#fff"/><ellipse cx="0.0" cy="9.8" rx="1.3" ry="1.1" fill="#fff"/><rect x="-0.8" y="13.7" width="1.6" height="6.1" fill="#fff"/><ellipse cx="0.0" cy="24.4" rx="1.3" ry="1.1" fill="#fff"/><ellipse cx="5.1" cy="9.8" rx="1.3" ry="1.1" fill="#fff"/><rect x="4.3" y="13.7" width="1.6" height="6.1" fill="#fff"/><ellipse cx="5.1" cy="24.4" rx="1.3" ry="1.1" fill="#fff"/></g>
<rect x="-1" y="466.5" width="2" height="5" fill="#fff"/>
<rect x="-14.3" y="473.2" width="28.3" height="15.2" rx="1.5" stroke="#141414" stroke-width="2.2" fill="#fff"/>
<path d="M-6.7 473.5 V488 M7 473.5 V488" stroke="#141414" stroke-width="1.5"/></g>
<rect x="319.8" y="45" width="31.8" height="8.6" rx="4" stroke="#141414" stroke-width="2.2" fill="#fff"/>
<path d="M320.8 46.5 C320.3 42 323 40.1 327 40.1 H344.5 C348.5 40.1 351 42 350.6 46.5 Z" fill="#141414"/>
<path d="M323.5 53.5 C326.5 56 326 60 325.8 67 H345.3 C345.3 60 345 56 347.8 53.5" stroke="#141414" stroke-width="2.2" fill="#fff"/>
<path d="M325.8 60.7 H345.3" stroke="#141414" stroke-width="1.8"/>
<rect x="325.8" y="64.2" width="19.5" height="3" fill="#141414"/>
<path d="M312.5 70 C311.5 72.5 313 74.3 315.5 74.3 M358.3 70 C359.3 72.5 357.8 74.3 355.5 74.3" fill="none" stroke="#141414" stroke-width="2"/>
<path d="M313.2 71.6 C311 71.5 311.5 66.7 315 66.7 H356 C359.5 66.7 360 71.5 357.6 71.6 Z" fill="#141414"/>
<path d="M314 73.4 H356.8" stroke="#141414" stroke-width="1.4"/>
<path d="M315.5 76.2 H355.3" stroke="#666" stroke-width="1.1"/>
<path d="M315.5 74 V170 M355.3 74 V84 M355.3 122 V170" stroke="#141414" stroke-width="2" fill="none"/>
<path d="M315.5 170 C315.5 173 312 175 312 177 C312 178.5 313.3 179 313 180.5 C311 183 308 185 305 188 H366 C363 185 360 183 358 180.5 C357.7 179 359 178.5 359 177 C359 175 355.3 173 355.3 170" stroke="#141414" stroke-width="2.2" fill="#fff"/>
<path d="M315.5 170.9 H355.3 M315.5 174.9 H355.3 M313 179 H358 M308.5 184.6 H362.5" stroke="#141414" stroke-width="1.5"/>
<path d="M304 189.5 H367" stroke="#141414" stroke-width="3.2"/>
<path d="M315.8 191 V214 M355.5 191 V214" stroke="#141414" stroke-width="2"/>
<path d="M304 214 H366.5 C369 216 369 226 366.5 228 H304 C301.5 226 301.5 216 304 214 Z" fill="#141414"/>
<rect x="303" y="229" width="10.8" height="11.3" rx="1" stroke="#141414" stroke-width="2.2" fill="#fff"/>
<rect x="356.8" y="229" width="10.8" height="11.3" rx="1" stroke="#141414" stroke-width="2.2" fill="#fff"/>
<path d="M314 229.8 H356.8" stroke="#141414" stroke-width="1.6"/>
<path d="M315.5 232 V252.5 Q315.5 256.4 319.5 256.4 H351.5 Q355.5 256.4 355.5 252.5 V232" stroke="#141414" stroke-width="2.2" fill="#fff"/>
<path d="M335 228 V256" stroke="#141414" stroke-width="1.2"/>
<rect x="328" y="256.4" width="15.3" height="8.6" stroke="#141414" stroke-width="2.2" fill="#fff"/>
<g transform="translate(335.1,263)"><path d="M-7.6 0 H7.6 V7.8 Q6.3999999999999995 15.5 7.6 23.2 V31 H-7.6 V23.2 Q-6.3999999999999995 15.5 -7.6 7.8 Z" fill="#141414"/><rect x="-5.4" y="1.9" width="10.8" height="2.4" fill="#fff"/><ellipse cx="-4.1" cy="9.9" rx="1.3" ry="1.1" fill="#fff"/><rect x="-4.9" y="14.0" width="1.6" height="6.2" fill="#fff"/><ellipse cx="-4.1" cy="24.8" rx="1.3" ry="1.1" fill="#fff"/><ellipse cx="0.0" cy="9.9" rx="1.3" ry="1.1" fill="#fff"/><rect x="-0.8" y="14.0" width="1.6" height="6.2" fill="#fff"/><ellipse cx="0.0" cy="24.8" rx="1.3" ry="1.1" fill="#fff"/><ellipse cx="4.1" cy="9.9" rx="1.3" ry="1.1" fill="#fff"/><rect x="3.3" y="14.0" width="1.6" height="6.2" fill="#fff"/><ellipse cx="4.1" cy="24.8" rx="1.3" ry="1.1" fill="#fff"/></g>
<rect x="333.4" y="287.8" width="3.4" height="5.6" fill="#fff"/>
<rect x="321.8" y="294.5" width="27.3" height="16" rx="2.5" stroke="#141414" stroke-width="2.2" fill="#fff"/>
<path d="M328.6 295 V310 M342.5 295 V310" stroke="#141414" stroke-width="1.6"/>
<rect x="325" y="309.5" width="21" height="3.5" fill="#141414"/>
<path d="M325.5 313 L312.3 336 L330 345 L335 317 L340 345 L358.8 336 L346 313 Z" stroke="#141414" stroke-width="2.2" fill="#fff" stroke-linejoin="round"/>
<g transform="translate(321.2,340.5) rotate(24) translate(0,26) rotate(180)"><path d="M-9.5 0 H9.5 V6.5 Q8.3 13.0 9.5 19.5 V26 H-9.5 V19.5 Q-8.3 13.0 -9.5 6.5 Z" fill="#141414"/><rect x="-7.3" y="1.9" width="14.6" height="2.4" fill="#fff"/><ellipse cx="-5.1" cy="8.3" rx="1.3" ry="1.1" fill="#fff"/><rect x="-5.9" y="11.7" width="1.6" height="5.2" fill="#fff"/><ellipse cx="-5.1" cy="20.8" rx="1.3" ry="1.1" fill="#fff"/><ellipse cx="0.0" cy="8.3" rx="1.3" ry="1.1" fill="#fff"/><rect x="-0.8" y="11.7" width="1.6" height="5.2" fill="#fff"/><ellipse cx="0.0" cy="20.8" rx="1.3" ry="1.1" fill="#fff"/><ellipse cx="5.1" cy="8.3" rx="1.3" ry="1.1" fill="#fff"/><rect x="4.3" y="11.7" width="1.6" height="5.2" fill="#fff"/><ellipse cx="5.1" cy="20.8" rx="1.3" ry="1.1" fill="#fff"/></g>
<g transform="translate(348.8,340.5) rotate(-24) translate(0,26) rotate(180)"><path d="M-9.5 0 H9.5 V6.5 Q8.3 13.0 9.5 19.5 V26 H-9.5 V19.5 Q-8.3 13.0 -9.5 6.5 Z" fill="#141414"/><rect x="-7.3" y="1.9" width="14.6" height="2.4" fill="#fff"/><ellipse cx="-5.1" cy="8.3" rx="1.3" ry="1.1" fill="#fff"/><rect x="-5.9" y="11.7" width="1.6" height="5.2" fill="#fff"/><ellipse cx="-5.1" cy="20.8" rx="1.3" ry="1.1" fill="#fff"/><ellipse cx="0.0" cy="8.3" rx="1.3" ry="1.1" fill="#fff"/><rect x="-0.8" y="11.7" width="1.6" height="5.2" fill="#fff"/><ellipse cx="0.0" cy="20.8" rx="1.3" ry="1.1" fill="#fff"/><ellipse cx="5.1" cy="8.3" rx="1.3" ry="1.1" fill="#fff"/><rect x="4.3" y="11.7" width="1.6" height="5.2" fill="#fff"/><ellipse cx="5.1" cy="20.8" rx="1.3" ry="1.1" fill="#fff"/></g>
<path d="M331.5 340 V426.5 Q331.5 429 333.5 429 H337 Q339 429 339 426.5 V340 Z" stroke="#141414" stroke-width="2.2" fill="#fff"/>
<path d="M332 340 L335 316 L338.5 340" fill="none" stroke="#141414" stroke-width="1.3"/>
<path d="M355.3 83 C357 85.5 360 86 364 86 M355.3 123 C357 120.5 360 120 364 120.5" fill="none" stroke="#141414" stroke-width="2"/>
<path d="M355.5 85.5 C349 92 346.5 98 346.8 103.7 C347 110 350 116 356.5 121" fill="none" stroke="#141414" stroke-width="1.8"/>
<path d="M359 88 C354 94 351.5 99 351.4 103.7 C351.5 109 354 114 359 119" fill="none" stroke="#141414" stroke-width="1.4"/>
<path d="M371 88.3 L455 88.8 C475 89.5 495 99 509.3 121 L484.2 135.8 C479 126 472 119 455 118.6 L371 118.6 Z" fill="#fff" stroke="#141414" stroke-width="2" stroke-linejoin="round"/>
<rect x="363.8" y="84.8" width="7.6" height="38.2" rx="3.5" fill="#fff" stroke="#141414" stroke-width="2"/>
<path d="M367.6 87 V121" stroke="#141414" stroke-width="1.3"/>
<g transform="translate(483.4,130.6) rotate(-20.6)"><path d="M0 0 L28 0 L29 4.5 L32.8 7 L33 16.5 L31 18 L30.6 30.8 L-0.6 30.8 L-1.6 18 L-3 16.5 L-2.6 7 L-0.5 4.5 Z" fill="#fff" stroke="#141414" stroke-width="2" stroke-linejoin="round"/><path d="M-0.5 5.5 H29.5" stroke="#141414" stroke-width="2.6"/><path d="M-2.6 11.5 H32.8" stroke="#141414" stroke-width="1.4"/><path d="M-2 17 H32" stroke="#141414" stroke-width="2.6"/><path d="M0.5 30.5 L2.5 27.3 H6.5 L8 30.5 Z" fill="#141414" stroke="#141414" stroke-width="0.8"/></g>
<path d="M117 22.3 L197 22.3" stroke="#141414" stroke-width="1.15" fill="none"/>
<path d="M242 22.3 L415 22.3" stroke="#141414" stroke-width="1.15" fill="none"/>
<path d="M459.5 22.3 L552.5 22.3" stroke="#141414" stroke-width="1.15" fill="none"/>
<path d="M117 12.6 L117 35.4" stroke="#141414" stroke-width="1.15" fill="none"/>
<path d="M335 13 L335 34.7" stroke="#141414" stroke-width="1.15" fill="none"/>
<path d="M552.8 12.9 L552.8 35.2" stroke="#141414" stroke-width="1.15" fill="none"/>
<path d="M117.0 22.3 L128.2 16.0 L128.2 28.6 Z" fill="#141414"/>
<path d="M335.0 22.3 L323.8 28.6 L323.8 16.0 Z" fill="#141414"/>
<path d="M335.0 22.3 L346.2 16.0 L346.2 28.6 Z" fill="#141414"/>
<path d="M552.8 22.3 L541.6 28.6 L541.6 16.0 Z" fill="#141414"/>
<text x="223.3" y="28.2" font-size="16" text-anchor="middle" letter-spacing="3.5">100</text>
<text x="440.7" y="28.2" font-size="16" text-anchor="middle" letter-spacing="3.5">100</text>
<path d="M131 40.9 L183.2 40.9" stroke="#141414" stroke-width="1.15" fill="none"/>
<path d="M148 190.2 L183.2 190.2" stroke="#141414" stroke-width="1.15" fill="none"/>
<path d="M172.8 40.9 L172.8 95.5" stroke="#141414" stroke-width="1.15" fill="none"/>
<path d="M172.8 134.4 L172.8 190.2" stroke="#141414" stroke-width="1.15" fill="none"/>
<path d="M172.8 40.9 L179.1 52.1 L166.5 52.1 Z" fill="#141414"/>
<path d="M172.8 190.2 L166.5 179.0 L179.1 179.0 Z" fill="#141414"/>
<text x="178.6" y="115" font-size="16" text-anchor="middle" letter-spacing="2" transform="rotate(-90 178.6 115)">123</text>
<path d="M246 40.9 L322 40.9" stroke="#141414" stroke-width="1.15" fill="none"/>
<path d="M246 190.2 L304 190.2" stroke="#141414" stroke-width="1.15" fill="none"/>
<path d="M367 190.2 L428.6 190.2" stroke="#141414" stroke-width="1.15" fill="none"/>
<path d="M255.8 40.9 L255.8 94.3" stroke="#141414" stroke-width="1.15" fill="none"/>
<path d="M255.8 134.4 L255.8 190.2" stroke="#141414" stroke-width="1.15" fill="none"/>
<path d="M255.8 40.9 L262.1 52.1 L249.5 52.1 Z" fill="#141414"/>
<path d="M255.8 190.2 L249.5 179.0 L262.1 179.0 Z" fill="#141414"/>
<text x="262.6" y="115" font-size="16" text-anchor="middle" letter-spacing="2" transform="rotate(-90 262.6 115)">123</text>
<path d="M280 161 L280 190.2" stroke="#141414" stroke-width="1.15" fill="none"/>
<path d="M280.0 190.2 L273.7 179.0 L286.3 179.0 Z" fill="#141414"/>
<text x="285.8" y="122.5" font-size="16" text-anchor="middle" letter-spacing="1.6" transform="rotate(-90 285.8 122.5)">max. 40</text>
<path d="M270 214.3 L303 214.3" stroke="#141414" stroke-width="1.15" fill="none"/>
<path d="M280 214.3 L280 238" stroke="#141414" stroke-width="1.15" fill="none"/>
<path d="M280.0 214.3 L286.3 225.5 L273.7 225.5 Z" fill="#141414"/>
<path d="M86.9 145 L86.9 186" stroke="#141414" stroke-width="1.15" fill="none"/>
<path d="M146.9 145 L146.9 186" stroke="#141414" stroke-width="1.15" fill="none"/>
<path d="M86.9 155.2 L98.1 148.9 L98.1 161.5 Z" fill="#141414"/>
<path d="M146.9 155.2 L135.7 161.5 L135.7 148.9 Z" fill="#141414"/>
<text x="117.4" y="160.6" font-size="16" text-anchor="middle" letter-spacing="0.3">Ø5 0</text>
<path d="M75.8 204.3 L90 204.3" stroke="#141414" stroke-width="1.15" fill="none"/>
<path d="M99.5 204.3 L88.3 210.6 L88.3 198.0 Z" fill="#141414"/>
<path d="M134.0 204.3 L145.2 198.0 L145.2 210.6 Z" fill="#141414"/>
<path d="M144 204.3 L158.7 204.3" stroke="#141414" stroke-width="1.15" fill="none"/>
<text x="166" y="211" font-size="16" text-anchor="start" letter-spacing="1.9">Ø 28</text>
<path d="M305 145 L305 187" stroke="#141414" stroke-width="1.15" fill="none"/>
<path d="M366.4 145 L366.4 187" stroke="#141414" stroke-width="1.15" fill="none"/>
<path d="M305.0 155.6 L316.2 149.3 L316.2 161.9 Z" fill="#141414"/>
<path d="M366.4 155.6 L355.2 161.9 L355.2 149.3 Z" fill="#141414"/>
<text x="336.5" y="161.2" font-size="16" text-anchor="middle" letter-spacing="1.5">Ø 51</text>
<path d="M292 204 L306 204" stroke="#141414" stroke-width="1.15" fill="none"/>
<path d="M315.5 204.0 L304.3 210.3 L304.3 197.7 Z" fill="#141414"/>
<path d="M355.8 204.0 L367.0 197.7 L367.0 210.3 Z" fill="#141414"/>
<path d="M365 204 L379.4 204" stroke="#141414" stroke-width="1.15" fill="none"/>
<text x="335.5" y="210.3" font-size="16" text-anchor="middle" letter-spacing="0.8">Ø3 2</text>
<path d="M419 129.8 L419 145" stroke="#141414" stroke-width="1.15" fill="none"/>
<path d="M419.0 154.0 L412.7 142.8 L425.3 142.8 Z" fill="#141414"/>
<path d="M409.1 154 L497.1 154" stroke="#141414" stroke-width="1.15" fill="none"/>
<path d="M419.0 189.9 L425.3 201.1 L412.7 201.1 Z" fill="#141414"/>
<path d="M419 199 L419 214.6" stroke="#141414" stroke-width="1.15" fill="none"/>
<text x="426.3" y="172.3" font-size="16" text-anchor="middle" letter-spacing="2.5" transform="rotate(-90 426.3 172.3)">30</text>
<path d="M336.3 247.0 L347.5 240.7 L347.5 253.3 Z" fill="#141414"/>
<path d="M345 247 L397.7 247" stroke="#141414" stroke-width="1.15" fill="none"/>
<path d="M440 247 L498 247" stroke="#141414" stroke-width="1.15" fill="none"/>
<path d="M507.4 247.0 L496.2 253.3 L496.2 240.7 Z" fill="#141414"/>
<text x="420.6" y="253.4" font-size="16" text-anchor="middle" letter-spacing="2.5">143</text>
<path d="M507.6 156.3 L507.6 256.9" stroke="#141414" stroke-width="1.15" fill="none"/>
<path d="M512.9 170 L533.7 214.3" stroke="#141414" stroke-width="1.15" fill="none"/>
<path d="M508.2 156.5 L512.9 170" stroke="#141414" stroke-width="1.15" fill="none"/>
<path d="M507.3 208.6 L495.5 213.7 L496.8 201.2 Z" fill="#141414"/>
<path d="M483.6 202.9 Q490.5 205 497 207.6" fill="none" stroke="#141414" stroke-width="1.15"/>
<text x="465.4" y="195" font-size="16" text-anchor="middle" letter-spacing="1.5" transform="rotate(42 465.4 195)">23°</text>
<path d="M535.7 195.7 L541.4 205.7 L530.0 205.7 Z" fill="#141414"/>
<path d="M535.7 205 L535.7 214.3" stroke="#141414" stroke-width="1.15" fill="none"/>
<path d="M535.7 203.5 L547.5 191" stroke="#141414" stroke-width="1.15" fill="none"/>
<path d="M49.7 190.6 L83.2 190.6" stroke="#141414" stroke-width="1.15" fill="none"/>
<path d="M49.4 487.8 L103.5 487.8" stroke="#141414" stroke-width="1.15" fill="none"/>
<path d="M59.6 190.6 L59.6 312" stroke="#141414" stroke-width="1.15" fill="none"/>
<path d="M59.6 353 L59.6 487.8" stroke="#141414" stroke-width="1.15" fill="none"/>
<path d="M59.6 190.6 L65.9 201.8 L53.3 201.8 Z" fill="#141414"/>
<path d="M59.6 487.8 L53.3 476.6 L65.9 476.6 Z" fill="#141414"/>
<text x="66.4" y="331" font-size="16" text-anchor="middle" letter-spacing="4.2" transform="rotate(-90 66.4 331)">550</text>
<path d="M540.7 488.5 L540.7 513.7" stroke="#141414" stroke-width="1.15" fill="none"/>
<path d="M563.5 488.5 L563.5 513.7" stroke="#141414" stroke-width="1.15" fill="none"/>
<path d="M516 504.6 L531 504.6" stroke="#141414" stroke-width="1.15" fill="none"/>
<path d="M540.7 504.6 L529.5 510.9 L529.5 498.3 Z" fill="#141414"/>
<path d="M563.5 504.6 L574.7 498.3 L574.7 510.9 Z" fill="#141414"/>
<path d="M573 504.6 L588 504.6" stroke="#141414" stroke-width="1.15" fill="none"/>
<text x="591.4" y="510.4" font-size="16" text-anchor="start" letter-spacing="4.2" xml:space="preserve">G 3/8</text>
<path d="M65.5 540.8 L613.8 540.8" stroke="#141414" stroke-width="2.6" fill="none"/>
<path d="M65.5 631.8 L613.8 631.8" stroke="#141414" stroke-width="2.6" fill="none"/>
<path d="M65 586.3 H611" stroke="#141414" stroke-width="1.2" stroke-dasharray="14 3 4 3"/>
<path d="M117.5 524 V650 M552.6 524 V650" stroke="#141414" stroke-width="1.2" stroke-dasharray="14 3 4 3"/>
<path d="M335.5 547.5 V624" stroke="#141414" stroke-width="1.2" stroke-dasharray="14 3 4 3"/>
<circle cx="117.4" cy="586.3" r="27" fill="none" stroke="#141414" stroke-width="2.5"/>
<circle cx="335.5" cy="586.3" r="27" fill="none" stroke="#141414" stroke-width="2.5"/>
<circle cx="552.4" cy="586.3" r="27" fill="none" stroke="#141414" stroke-width="2.5"/>
<path d="M142.5 573.8 L145.6 562.1 L154.2 570.7 Z" fill="#141414"/>
<path d="M148.9 567.5 L154.9 562.3 H200.6" fill="none" stroke="#555" stroke-width="1"/>
<text x="160.0" y="560.4" font-size="15.3" text-anchor="start" letter-spacing="1.2">Ø30</text>
<path d="M360.6 573.8 L363.7 562.1 L372.3 570.7 Z" fill="#141414"/>
<path d="M367.0 567.5 L373.0 562.3 H411" fill="none" stroke="#555" stroke-width="1"/>
<text x="378.1" y="560.4" font-size="15.3" text-anchor="start" letter-spacing="1.2">Ø34</text>
<path d="M577.5 573.8 L580.6 562.1 L589.2 570.7 Z" fill="#141414"/>
<path d="M583.9 567.5 L589.9 562.3 H635" fill="none" stroke="#555" stroke-width="1"/>
<text x="595.0" y="560.4" font-size="15.3" text-anchor="start" letter-spacing="1.2">Ø30</text>
</svg></body></html>
